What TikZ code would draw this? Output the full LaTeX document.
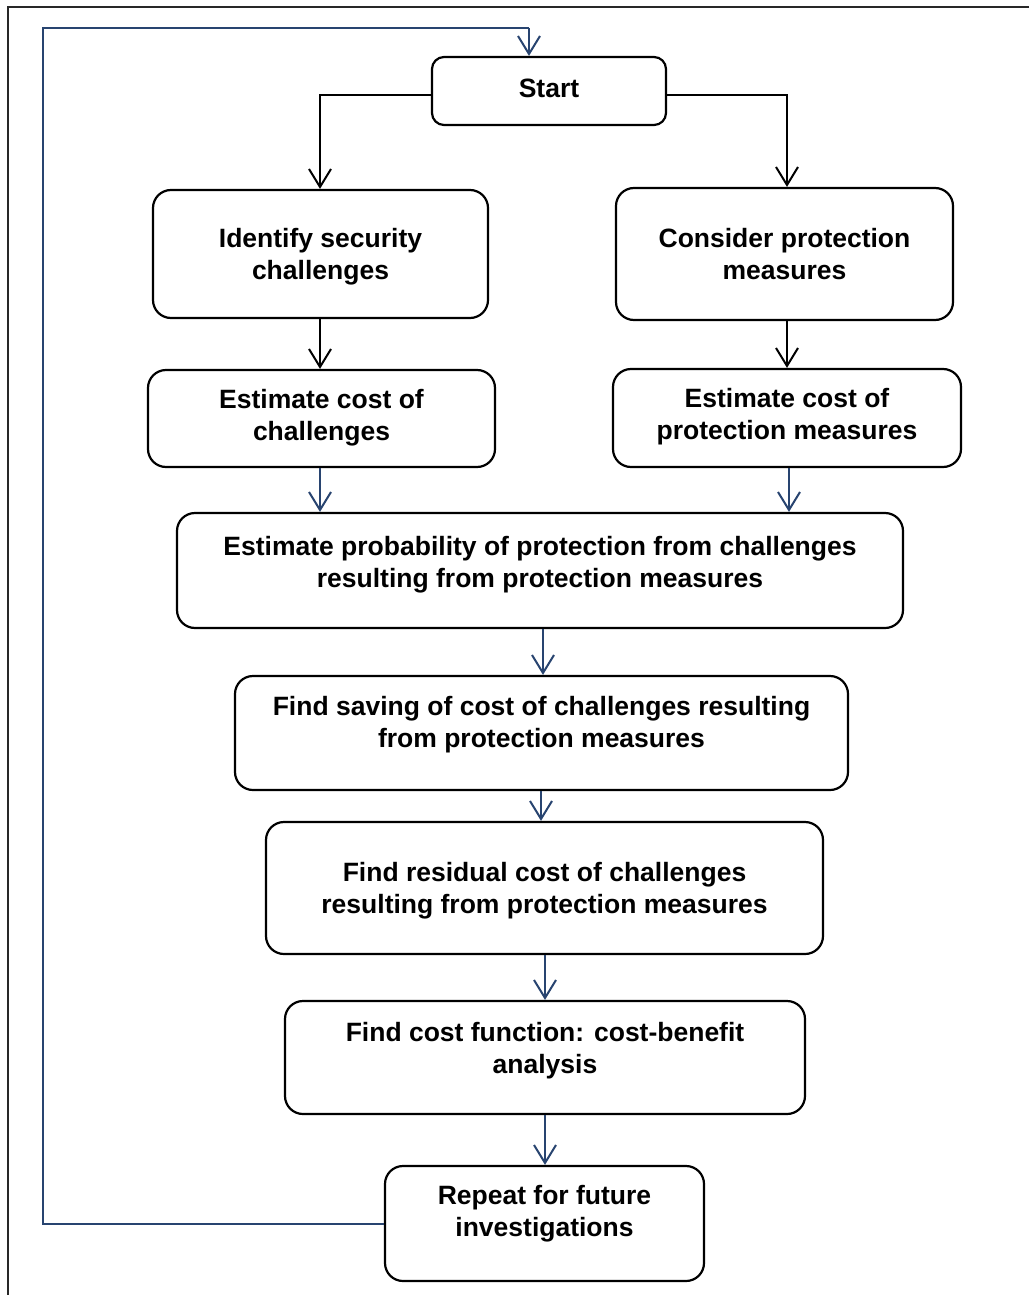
\documentclass[tikz,border=0pt]{standalone}
\usepackage{fontspec}
\setmainfont{Liberation Sans}
\usetikzlibrary{arrows.meta}
\definecolor{navy}{RGB}{40,68,112}
\definecolor{framegray}{RGB}{40,40,40}
\newcommand\boxtxt[2]{\raisebox{#1}[\height][\depth]{\begin{tabular}{@{}c@{}}#2\end{tabular}}}
\tikzset{
  stepbox/.style={draw=black, line width=2.2pt, rounded corners=18pt, inner sep=0pt,
    font=\fontsize{26.5}{32}\selectfont\bfseries, align=center},
  arr/.style={line width=2pt, -{Straight Barb[length=18pt,width=22pt,line width=2pt]}},
  arrb/.style={arr, draw=navy},
  loopline/.style={line width=2.8pt, draw=navy},
}
\begin{document}
\begin{tikzpicture}[x=1pt,y=-1pt]
\useasboundingbox (0,0) rectangle (1029,1295);
\fill[white] (0,0) rectangle (1029,1295);
% frame (only top and left visible)
\draw[framegray, line width=2.2pt] (1029,7) -- (8,7) -- (8,1295);

\node[stepbox, rounded corners=12pt, minimum width=234pt, minimum height=68pt] (start) at (549,91) {\boxtxt{0pt}{Start}};
\node[stepbox, minimum width=335pt, minimum height=128pt] (ident) at (320.5,254) {\boxtxt{-3pt}{Identify security\\challenges}};
\node[stepbox, minimum width=337pt, minimum height=132pt] (cons) at (784.5,254) {\boxtxt{-3pt}{Consider protection\\measures}};
\node[stepbox, minimum width=347pt, minimum height=97pt] (estc) at (321.5,418.5) {\boxtxt{0pt}{Estimate cost of\\challenges}};
\node[stepbox, minimum width=348pt, minimum height=98pt] (estp) at (787,418) {\boxtxt{0.5pt}{Estimate cost of\\protection measures}};
\node[stepbox, minimum width=726pt, minimum height=115pt] (prob) at (540,570.5) {\boxtxt{5.5pt}{Estimate probability of protection from challenges\\resulting from protection measures}};
\node[stepbox, minimum width=613pt, minimum height=114pt] (sav) at (541.5,733) {\boxtxt{8pt}{Find saving of cost of challenges resulting\\from protection measures}};
\node[stepbox, minimum width=557pt, minimum height=132pt] (res) at (544.5,888) {\boxtxt{-3pt}{Find residual cost of challenges\\resulting from protection measures}};
\node[stepbox, minimum width=520pt, minimum height=113pt] (cf) at (545,1057.5) {\boxtxt{6.5pt}{Find cost function: cost-benefit\\analysis}};
\node[stepbox, minimum width=319pt, minimum height=115pt] (rep) at (544.5,1223.5) {\boxtxt{9.5pt}{Repeat for future\\investigations}};

% connectors
\draw[arr, line width=2.4pt] (start.west |- 0,95) -| (ident.north -| 320,0);
\draw[arr, line width=2.4pt] (start.east |- 0,95) -| (cons.north -| 787,0);
\draw[arr] (ident.south -| 320,0) -- (estc.north -| 320,0);
\draw[arr] (cons.south -| 787,0) -- (estp.north -| 787,0);
\draw[arrb] (estc.south -| 320,0) -- (prob.north -| 320,0);
\draw[arrb] (estp.south -| 789,0) -- (prob.north -| 789,0);
\draw[arrb] (prob.south -| 543,0) -- (sav.north -| 543,0);
\draw[arrb] (sav.south -| 541,0) -- (res.north -| 541,0);
\draw[arrb] (res.south -| 545,0) -- (cf.north -| 545,0);
\draw[arrb] (cf.south -| 545,0) -- (rep.north -| 545,0);
% feedback loop
\coordinate (lb) at (43,1224);
\coordinate (lt) at (43,28);
\coordinate (lr) at (529,28);
\draw[loopline] (rep.west |- 0,1224) -- (lb) -- (lt) -- (lr);
\draw[arrb] (lr) -- (start.north -| 529,0);
\end{tikzpicture}
\end{document}
